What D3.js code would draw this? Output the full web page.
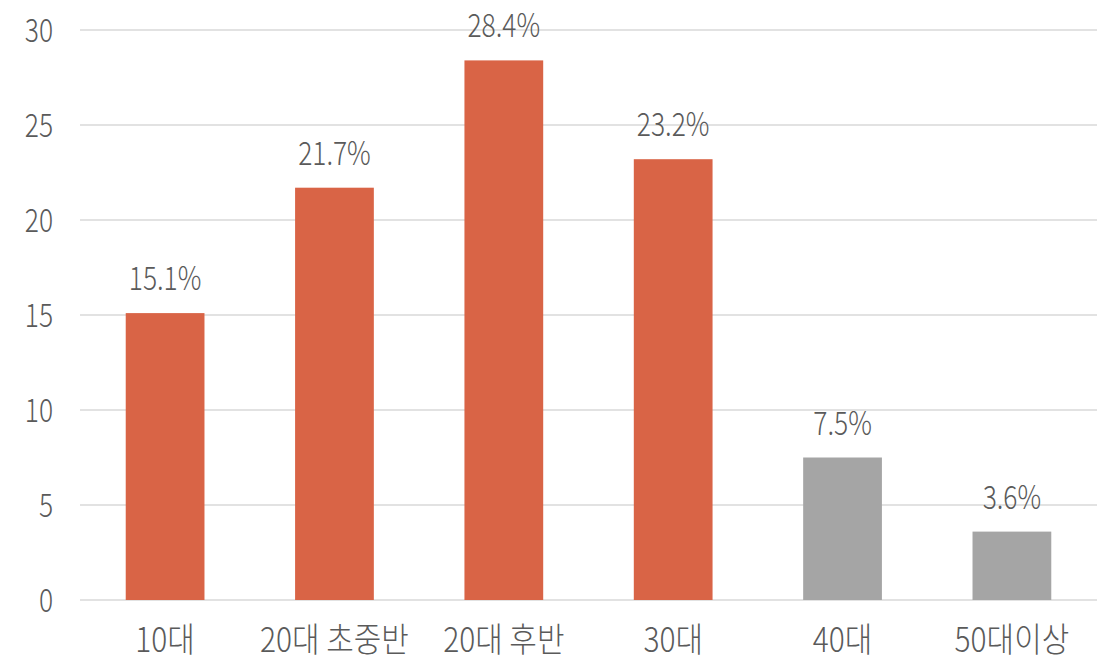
<!DOCTYPE html>
<html><head><meta charset="utf-8">
<script src="https://cdn.jsdelivr.net/npm/d3@7"></script>
<style>body{margin:0;background:#fff}svg{display:block}</style>
</head><body>
<script>
const categories = ["10대","20대 초중반","20대 후반","30대","40대","50대이상"];
const values = [15.1, 21.7, 28.4, 23.2, 7.5, 3.6];
const valueLabels = ["15.1%","21.7%","28.4%","23.2%","7.5%","3.6%"];
const barColors = ["#d96446","#d96446","#d96446","#d96446","#a5a5a5","#a5a5a5"];
const yTicks = [0,5,10,15,20,25,30];

const W = 1115, H = 661;
const svg = d3.select("body").append("svg").attr("width", W).attr("height", H);
const font = "'Noto Sans CJK KR','Noto Sans',sans-serif";
const sx = 0.8;
const textColor = "#5a5a5a";

const x = d3.scaleBand().domain(categories).range([80, 1097]).paddingInner(0.535).paddingOuter(0.27);
const y = d3.scaleLinear().domain([0, 30]).range([600, 30]);

// grid
svg.append("g").selectAll("line").data(yTicks).join("line")
  .attr("x1", 80).attr("x2", 1097)
  .attr("y1", d => y(d)).attr("y2", d => y(d))
  .attr("stroke", "#d9d9d9").attr("stroke-width", 1.5);

// y labels
svg.append("g").selectAll("text").data(yTicks).join("text")
  .attr("transform", d => `translate(53,${y(d)+11.5}) scale(${sx},1)`)
  .attr("text-anchor", "end")
  .attr("font-family", font).attr("font-weight", 200).attr("font-size", 33)
  .attr("fill", textColor).text(d => d);

// bars
svg.append("g").selectAll("rect").data(values).join("rect")
  .attr("x", (d,i) => x(categories[i]))
  .attr("width", x.bandwidth())
  .attr("y", d => y(d))
  .attr("height", d => y(0) - y(d))
  .attr("fill", (d,i) => barColors[i]);

// value labels
svg.append("g").selectAll("text").data(values).join("text")
  .attr("transform", (d,i) => `translate(${x(categories[i]) + x.bandwidth()/2},${y(d)-23}) scale(${sx},1)`)
  .attr("text-anchor", "middle")
  .attr("font-family", font).attr("font-weight", 200).attr("font-size", 33)
  .attr("fill", textColor).text((d,i) => valueLabels[i]);

// x labels
svg.append("g").selectAll("text").data(categories).join("text")
  .attr("transform", d => `translate(${x(d) + x.bandwidth()/2},652) scale(0.88,1)`)
  .attr("text-anchor", "middle")
  .attr("font-family", font).attr("font-weight", 200).attr("font-size", 34)
  .attr("fill", textColor).text(d => d);
</script>
</body></html>
